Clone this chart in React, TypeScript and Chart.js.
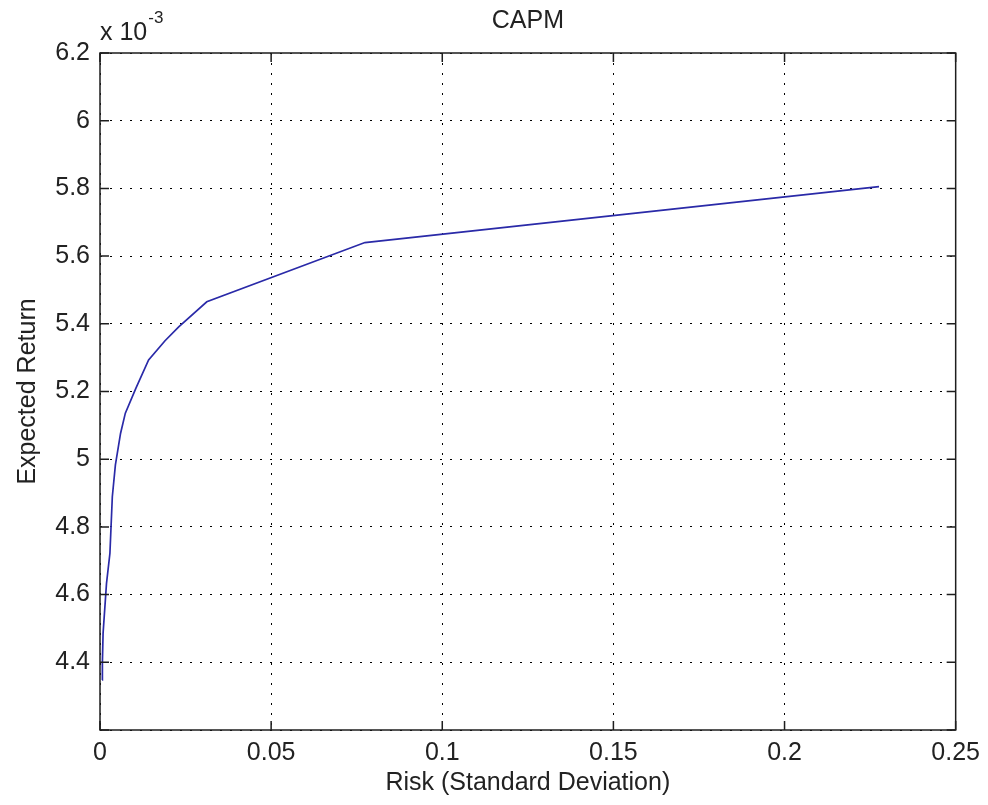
import React, { useEffect, useRef } from 'react';
import { Chart, registerables } from 'chart.js';

Chart.register(...registerables);

const riskValues = [0.0006, 0.0007, 0.0009, 0.0019, 0.0029, 0.0036, 0.0045, 0.006, 0.0074, 0.0105, 0.0142, 0.019, 0.023, 0.0312, 0.0774, 0.2276];
const returnValues = [0.004348, 0.0044, 0.004486, 0.004633, 0.004722, 0.004889, 0.004983, 0.005076, 0.005136, 0.00521, 0.005293, 0.00535, 0.005391, 0.005465, 0.00564, 0.005805];

const xTicks = [0, 0.05, 0.1, 0.15, 0.2, 0.25];
const yTicks = [0.0042, 0.0044, 0.0046, 0.0048, 0.005, 0.0052, 0.0054, 0.0056, 0.0058, 0.006, 0.0062];
const xTickLabels = ['0', '0.05', '0.1', '0.15', '0.2', '0.25'];
const yTickLabels = ['', '4.4', '4.6', '4.8', '5', '5.2', '5.4', '5.6', '5.8', '6', '6.2'];

const chartTitle = 'CAPM';
const xTitle = 'Risk (Standard Deviation)';
const yTitle = 'Expected Return';
const exponentBase = 'x 10';
const exponentPower = '-3';

const FONT = '"Liberation Sans", Arial, sans-serif';
const TEXT_COLOR = '#222222';

const framePlugin = {
  id: 'matlabFrame',
  afterDraw(chart: any) {
    const ctx = chart.ctx;
    const { left, right, top, bottom } = chart.chartArea;
    const xs = chart.scales.x;
    const ys = chart.scales.y;
    ctx.save();
    ctx.setLineDash([]);
    ctx.strokeStyle = '#1e1e1e';
    ctx.lineWidth = 1.5;
    ctx.strokeRect(left, top, right - left, bottom - top);
    ctx.beginPath();
    yTicks.forEach((v) => {
      const py = ys.getPixelForValue(v);
      ctx.moveTo(left, py);
      ctx.lineTo(left + 9, py);
      ctx.moveTo(right, py);
      ctx.lineTo(right - 9, py);
    });
    xTicks.forEach((v) => {
      const px = xs.getPixelForValue(v);
      ctx.moveTo(px, bottom);
      ctx.lineTo(px, bottom - 9);
      ctx.moveTo(px, top);
      ctx.lineTo(px, top + 9);
    });
    ctx.stroke();

    ctx.fillStyle = TEXT_COLOR;
    ctx.font = `25px ${FONT}`;
    ctx.textAlign = 'center';
    ctx.textBaseline = 'middle';
    const cx = (left + right) / 2;
    const cy = (top + bottom) / 2;
    ctx.fillText(chartTitle, cx, 21);
    ctx.fillText(xTitle, cx, 783);
    ctx.save();
    ctx.translate(28, cy);
    ctx.rotate(-Math.PI / 2);
    ctx.fillText(yTitle, 0, 0);
    ctx.restore();

    ctx.textAlign = 'left';
    ctx.textBaseline = 'alphabetic';
    ctx.font = `25px ${FONT}`;
    ctx.fillText(exponentBase, 100, 40);
    const w = ctx.measureText(exponentBase).width;
    ctx.font = `17px ${FONT}`;
    ctx.fillText(exponentPower, 100 + w + 1, 23);
    ctx.restore();
  },
};

export default function App() {
  const ref = useRef<HTMLCanvasElement | null>(null);

  useEffect(() => {
    if (!ref.current) return;
    const chart = new Chart(ref.current, {
      type: 'line',
      data: {
        datasets: [
          {
            data: riskValues.map((x, i) => ({ x, y: returnValues[i] })),
            borderColor: '#2a2aa8',
            borderWidth: 1.7,
            pointRadius: 0,
            fill: false,
            tension: 0,
          },
        ],
      },
      options: {
        animation: false,
        responsive: false,
        layout: { padding: { left: 0, right: 31, top: 53, bottom: 0 } },
        plugins: {
          legend: { display: false },
          tooltip: { enabled: false },
          title: { display: false },
        },
        scales: {
          x: {
            type: 'linear',
            min: 0,
            max: 0.25,
            afterBuildTicks: (s: any) => {
              s.ticks = xTicks.map((v) => ({ value: v }));
            },
            afterFit: (s: any) => {
              s.height = 75;
            },
            grid: { color: '#000000', lineWidth: 1, drawTicks: false },
            border: { display: false, dash: [2, 8] },
            ticks: {
              padding: 8,
              maxRotation: 0,
              autoSkip: false,
              color: TEXT_COLOR,
              font: { family: FONT, size: 25 },
              callback: (_v: any, i: number) => xTickLabels[i],
            },
          },
          y: {
            type: 'linear',
            min: 0.0042,
            max: 0.0062,
            afterBuildTicks: (s: any) => {
              s.ticks = yTicks.map((v) => ({ value: v }));
            },
            afterFit: (s: any) => {
              s.width = 100;
            },
            grid: { color: '#000000', lineWidth: 1, drawTicks: false },
            border: { display: false, dash: [2, 8] },
            ticks: {
              padding: 10,
              autoSkip: false,
              color: TEXT_COLOR,
              font: { family: FONT, size: 25 },
              callback: (_v: any, i: number) => yTickLabels[i],
            },
          },
        },
      },
      plugins: [framePlugin],
    } as any);
    return () => chart.destroy();
  }, []);

  return (
    <div style={{ position: 'absolute', left: 0, top: 0, width: 988, height: 805, background: '#ffffff' }}>
      <canvas ref={ref} width={988} height={805} />
    </div>
  );
}
